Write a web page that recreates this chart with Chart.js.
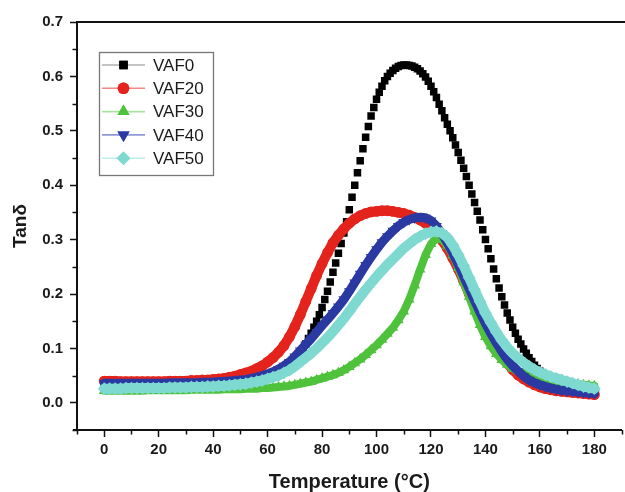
<!DOCTYPE html>
<html>
<head>
<meta charset="utf-8">
<script src="https://cdn.jsdelivr.net/npm/chart.js@4.4.1/dist/chart.umd.min.js"></script>
<style>
  html, body { margin: 0; padding: 0; background: #fff; overflow: hidden; }
  #wrap { position: relative; width: 628px; height: 492px; }
</style>
</head>
<body>
<div id="wrap"><canvas id="c"></canvas></div>
<script>
// VAF0 was sampled every 1 °C, the other series every 2 °C
const temps1 = [0,1,2,3,4,5,6,7,8,9,10,11,12,13,14,15,16,17,18,19,20,21,22,23,24,25,26,27,28,29,30,31,32,33,34,35,36,37,38,39,40,41,42,43,44,45,46,47,48,49,50,51,52,53,54,55,56,57,58,59,60,61,62,63,64,65,66,67,68,69,70,71,72,73,74,75,76,77,78,79,80,81,82,83,84,85,86,87,88,89,90,91,92,93,94,95,96,97,98,99,100,101,102,103,104,105,106,107,108,109,110,111,112,113,114,115,116,117,118,119,120,121,122,123,124,125,126,127,128,129,130,131,132,133,134,135,136,137,138,139,140,141,142,143,144,145,146,147,148,149,150,151,152,153,154,155,156,157,158,159,160,161,162,163,164,165,166,167,168,169,170,171,172,173,174,175,176,177,178,179,180];

const temps2 = [0,2,4,6,8,10,12,14,16,18,20,22,24,26,28,30,32,34,36,38,40,42,44,46,48,50,52,54,56,58,60,62,64,66,68,70,72,74,76,78,80,82,84,86,88,90,92,94,96,98,100,102,104,106,108,110,112,114,116,118,120,122,124,126,128,130,132,134,136,138,140,142,144,146,148,150,152,154,156,158,160,162,164,166,168,170,172,174,176,178,180];

const vaf0 = [0.035,0.035,0.035,0.035,0.035,0.035,0.035,0.035,0.035,0.035,0.035,0.035,0.035,0.035,0.036,0.036,0.036,0.036,0.036,0.036,0.036,0.036,0.036,0.036,0.036,0.036,0.037,0.037,0.037,0.037,0.037,0.037,0.037,0.037,0.037,0.037,0.038,0.038,0.038,0.038,0.038,0.038,0.039,0.039,0.039,0.039,0.039,0.039,0.040,0.040,0.040,0.040,0.041,0.041,0.042,0.042,0.043,0.044,0.045,0.046,0.047,0.048,0.050,0.052,0.055,0.058,0.061,0.064,0.068,0.072,0.077,0.083,0.090,0.099,0.108,0.118,0.128,0.139,0.150,0.162,0.175,0.190,0.205,0.222,0.240,0.257,0.275,0.293,0.312,0.333,0.355,0.378,0.400,0.423,0.445,0.467,0.488,0.508,0.527,0.543,0.558,0.571,0.582,0.592,0.600,0.606,0.611,0.615,0.618,0.620,0.621,0.621,0.620,0.619,0.617,0.614,0.610,0.605,0.599,0.591,0.582,0.572,0.561,0.549,0.537,0.524,0.512,0.500,0.487,0.474,0.460,0.446,0.431,0.416,0.400,0.384,0.368,0.352,0.336,0.318,0.300,0.283,0.265,0.246,0.228,0.211,0.195,0.180,0.165,0.152,0.139,0.128,0.117,0.108,0.099,0.091,0.083,0.076,0.069,0.063,0.058,0.053,0.049,0.046,0.043,0.040,0.038,0.036,0.035,0.033,0.032,0.031,0.030,0.029,0.028,0.027,0.026,0.025,0.024,0.023,0.022];

const vaf20 = [0.040,0.040,0.040,0.039,0.039,0.039,0.039,0.039,0.039,0.039,0.039,0.039,0.040,0.040,0.040,0.040,0.041,0.041,0.042,0.042,0.043,0.044,0.045,0.047,0.049,0.052,0.055,0.058,0.063,0.068,0.075,0.083,0.093,0.105,0.121,0.140,0.162,0.186,0.210,0.234,0.256,0.276,0.294,0.308,0.320,0.330,0.338,0.344,0.348,0.351,0.352,0.353,0.353,0.352,0.350,0.348,0.345,0.341,0.336,0.330,0.322,0.311,0.299,0.284,0.266,0.246,0.224,0.201,0.178,0.156,0.136,0.118,0.101,0.086,0.073,0.061,0.051,0.044,0.038,0.033,0.029,0.026,0.024,0.022,0.021,0.020,0.019,0.018,0.017,0.016,0.015];

const vaf30 = [0.022,0.022,0.022,0.022,0.022,0.022,0.022,0.022,0.023,0.023,0.023,0.023,0.023,0.023,0.023,0.023,0.024,0.024,0.024,0.024,0.024,0.024,0.025,0.025,0.025,0.025,0.026,0.026,0.026,0.027,0.027,0.028,0.029,0.030,0.031,0.033,0.035,0.037,0.039,0.042,0.045,0.048,0.051,0.055,0.060,0.066,0.073,0.080,0.088,0.097,0.106,0.116,0.127,0.138,0.152,0.168,0.190,0.216,0.245,0.272,0.292,0.303,0.300,0.289,0.271,0.248,0.222,0.195,0.168,0.143,0.121,0.104,0.090,0.079,0.070,0.063,0.058,0.054,0.051,0.048,0.046,0.044,0.042,0.040,0.038,0.036,0.035,0.034,0.033,0.032,0.031];

const vaf40 = [0.036,0.036,0.036,0.036,0.036,0.036,0.036,0.036,0.036,0.036,0.036,0.036,0.037,0.037,0.037,0.037,0.037,0.037,0.038,0.038,0.038,0.039,0.039,0.040,0.041,0.042,0.043,0.045,0.047,0.050,0.053,0.057,0.062,0.068,0.075,0.085,0.096,0.107,0.118,0.130,0.142,0.153,0.165,0.177,0.190,0.205,0.221,0.237,0.253,0.268,0.282,0.295,0.306,0.316,0.325,0.332,0.337,0.340,0.341,0.340,0.335,0.325,0.311,0.294,0.275,0.254,0.232,0.210,0.188,0.166,0.146,0.127,0.110,0.094,0.080,0.068,0.058,0.049,0.042,0.037,0.033,0.030,0.027,0.025,0.023,0.022,0.021,0.020,0.019,0.018,0.017];

const vaf50 = [0.026,0.026,0.026,0.026,0.027,0.027,0.027,0.027,0.027,0.027,0.027,0.027,0.028,0.028,0.028,0.028,0.029,0.029,0.029,0.030,0.030,0.031,0.031,0.032,0.033,0.034,0.035,0.037,0.039,0.041,0.044,0.047,0.050,0.055,0.060,0.067,0.075,0.083,0.091,0.100,0.110,0.120,0.131,0.143,0.155,0.168,0.182,0.195,0.208,0.220,0.232,0.243,0.254,0.264,0.274,0.284,0.292,0.300,0.306,0.311,0.314,0.315,0.312,0.304,0.290,0.272,0.252,0.230,0.208,0.186,0.165,0.147,0.130,0.115,0.102,0.091,0.082,0.074,0.067,0.061,0.056,0.052,0.048,0.045,0.042,0.039,0.036,0.033,0.030,0.028,0.026];

const seriesNames = ['VAF0','VAF20','VAF30','VAF40','VAF50'];
const xTickValues = [0,20,40,60,80,100,120,140,160,180];
const yTickValues = [0.0,0.1,0.2,0.3,0.4,0.5,0.6,0.7];

const styles = [
  { color: '#000000', line: '#b0b0b0', shape: 'rect', r: 5.3, rot: 0, lr: 6, band: 0 },
  { color: '#e4241c', line: '#f08a86', shape: 'circle', r: 5.4, rot: 0, lr: 5.8, band: 10 },
  { color: '#4fc23c', line: '#a8e3a0', shape: 'triangle', r: 6.2, rot: 0, lr: 7, band: 8 },
  { color: '#2b3aa2', line: '#9098d6', shape: 'triangle', r: 6.2, rot: 180, lr: 7, band: 9 },
  { color: '#7ed9d1', line: '#bdeeea', shape: 'rectRot', r: 6.4, rot: 0, lr: 6.8, band: 10 }
];
const allSeries = [vaf0, vaf20, vaf30, vaf40, vaf50];
const allTemps = [temps1, temps2, temps2, temps2, temps2];

const datasets = allSeries.map((vals, i) => ({
  label: seriesNames[i],
  data: allTemps[i].map((t, k) => ({ x: t, y: vals[k] })),
  showLine: styles[i].band > 0,
  borderColor: styles[i].color,
  borderWidth: styles[i].band,
  borderJoinStyle: 'round',
  borderCapStyle: 'round',
  tension: 0,
  pointStyle: styles[i].shape,
  pointRotation: styles[i].rot,
  pointRadius: styles[i].r,
  pointHoverRadius: styles[i].r,
  pointBackgroundColor: styles[i].color,
  pointBorderColor: styles[i].color,
  pointBorderWidth: 0,
  order: 4 - i
}));

const FONT = "'Liberation Sans', Arial, Helvetica, sans-serif";

const decor = {
  id: 'decor',
  afterDraw(chart) {
    const ctx = chart.ctx;
    const xs = chart.scales.x, ys = chart.scales.y;
    const ca = chart.chartArea;
    ctx.save();
    ctx.strokeStyle = '#111';
    ctx.lineWidth = 1.5;
    for (let v = -10; v <= 190; v += 20) {
      const px = Math.round(xs.getPixelForValue(v)) + 0.5;
      ctx.beginPath(); ctx.moveTo(px, ca.bottom); ctx.lineTo(px, ca.bottom + 4.5); ctx.stroke();
    }
    for (let k = -1; k <= 13; k += 2) {
      const v = k * 0.05;
      const py = Math.round(ys.getPixelForValue(v)) + 0.5;
      ctx.beginPath(); ctx.moveTo(ca.left - 4.5, py); ctx.lineTo(ca.left, py); ctx.stroke();
    }
    ctx.lineWidth = 2;
    ctx.beginPath(); ctx.moveTo(ca.left - 4, ca.bottom); ctx.lineTo(ca.left, ca.bottom); ctx.stroke();
    ctx.beginPath(); ctx.moveTo(ca.left - 1, ca.top); ctx.lineTo(chart.width, ca.top); ctx.stroke();
    ctx.restore();
  },
  afterDatasetsDraw(chart) {
    const ctx = chart.ctx;
    ctx.save();
    const bx = 99.5, by = 52.5, bw = 114, bh = 123;
    ctx.fillStyle = '#ffffff';
    ctx.fillRect(bx, by, bw, bh);
    ctx.strokeStyle = '#777';
    ctx.lineWidth = 1.3;
    ctx.strokeRect(bx, by, bw, bh);
    seriesNames.forEach((name, i) => {
      const y = 65 + i * 23.3;
      const s = styles[i];
      ctx.strokeStyle = s.line;
      ctx.lineWidth = 1.6;
      ctx.beginPath(); ctx.moveTo(102, y); ctx.lineTo(145, y); ctx.stroke();
      ctx.fillStyle = s.color;
      Chart.helpers.drawPoint(ctx, { pointStyle: s.shape, rotation: s.rot, radius: s.lr, borderWidth: 0 }, 123.5, y);
      ctx.fill();
      ctx.fillStyle = '#1a1a1a';
      ctx.font = '17px ' + FONT;
      ctx.textAlign = 'left';
      ctx.textBaseline = 'middle';
      ctx.fillText(name, 153, y + 1);
    });
    ctx.restore();
  }
};

new Chart(document.getElementById('c'), {
  type: 'scatter',
  data: { datasets },
  options: {
    responsive: true,
    maintainAspectRatio: false,
    animation: false,
    events: [],
    layout: { padding: { top: 22, left: 0, right: 0, bottom: 0 } },
    plugins: { legend: { display: false }, tooltip: { enabled: false } },
    scales: {
      x: {
        type: 'linear',
        position: 'bottom',
        min: -10,
        max: 190,
        afterBuildTicks(scale) {
          scale.ticks = xTickValues.map(v => ({ value: v }));
        },
        afterFit(scale) { scale.height = 62; },
        grid: { drawOnChartArea: false, drawTicks: true, tickLength: 7, tickColor: '#111', tickWidth: 1.5 },
        border: { display: true, color: '#111', width: 2 },
        ticks: {
          font: { family: FONT, size: 15, weight: 'bold' },
          color: '#1a1a1a',
          padding: 4,
          maxRotation: 0,
          autoSkip: false,
          callback: (v) => String(v)
        },
        title: {
          display: true,
          text: 'Temperature (°C)',
          font: { family: FONT, size: 20, weight: 'bold', lineHeight: 1.0 },
          color: '#1a1a1a',
          padding: { top: 0, bottom: 0 }
        }
      },
      y: {
        type: 'linear',
        position: 'left',
        min: -0.05,
        max: 0.7,
        afterBuildTicks(scale) {
          scale.ticks = yTickValues.map(v => ({ value: v }));
        },
        afterFit(scale) { scale.width = 77; },
        grid: { drawOnChartArea: false, drawTicks: true, tickLength: 7, tickColor: '#111', tickWidth: 1.5 },
        border: { display: true, color: '#111', width: 2 },
        ticks: {
          font: { family: FONT, size: 15, weight: 'bold' },
          color: '#1a1a1a',
          padding: 7,
          autoSkip: false,
          callback: (v) => Number(v).toFixed(1)
        },
        title: {
          display: true,
          text: 'Tanδ',
          font: { family: FONT, size: 19, weight: 'bold', lineHeight: 1.2 },
          color: '#1a1a1a',
          padding: { top: 9, bottom: 0 }
        }
      }
    }
  },
  plugins: [decor]
});
</script>
</body>
</html>
